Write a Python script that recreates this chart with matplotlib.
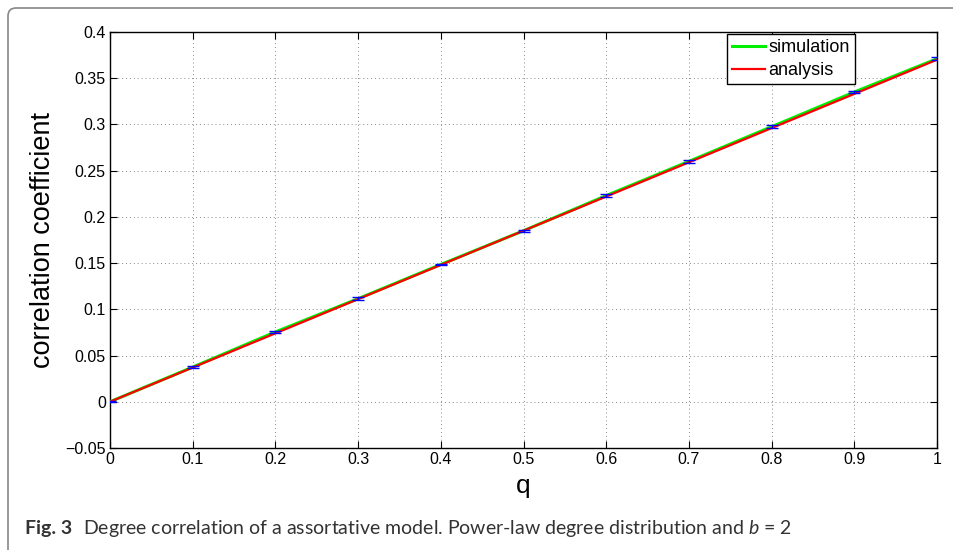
import numpy as np
import matplotlib.pyplot as plt
from matplotlib.patches import FancyBboxPatch

# data
q = [0.0, 0.1, 0.2, 0.3, 0.4, 0.5, 0.6, 0.7, 0.8, 0.9, 1.0]
simulation = [0.0, 0.0375, 0.0755, 0.1115, 0.1485, 0.1850, 0.2230, 0.2600, 0.2975, 0.3350, 0.3710]
sim_err = [0.0005, 0.0008, 0.0012, 0.0015, 0.0008, 0.0010, 0.0012, 0.0015, 0.0015, 0.0012, 0.0015]
analysis = [0.0, 0.0370, 0.0740, 0.1110, 0.1480, 0.1850, 0.2220, 0.2590, 0.2960, 0.3330, 0.3700]

xticks = [0, 0.1, 0.2, 0.3, 0.4, 0.5, 0.6, 0.7, 0.8, 0.9, 1]
xticklabels = ['0', '0.1', '0.2', '0.3', '0.4', '0.5', '0.6', '0.7', '0.8', '0.9', '1']
yticks = [-0.05, 0, 0.05, 0.1, 0.15, 0.2, 0.25, 0.3, 0.35, 0.4]
yticklabels = ['\u22120.05', '0', '0.05', '0.1', '0.15', '0.2', '0.25', '0.3', '0.35', '0.4']

plt.rcParams['font.family'] = ['Liberation Sans', 'DejaVu Sans']
plt.rcParams['mathtext.fontset'] = 'custom'
plt.rcParams['mathtext.it'] = 'Lato:italic'
plt.rcParams['mathtext.rm'] = 'Lato'

fig = plt.figure(figsize=(9.54, 5.5), dpi=100)
ax = fig.add_axes([0.1153, 0.1855, 0.8669, 0.7564])

ax.plot(q, simulation, color='#00ee00', linewidth=2.2, label='simulation', zorder=3)
ax.plot(q, analysis, color='#ff0000', linewidth=1.6, label='analysis', zorder=4)
ax.errorbar(q, simulation, yerr=sim_err, fmt='none', ecolor='#0000ff',
            elinewidth=1.0, capsize=4, capthick=1.0, zorder=5)

ax.set_xlim(0, 1)
ax.set_ylim(-0.05, 0.4)
ax.set_xticks(xticks)
ax.set_xticklabels(xticklabels)
ax.set_yticks(yticks)
ax.set_yticklabels(yticklabels)
ax.tick_params(direction='in', top=True, right=True, length=5, labelsize=11.5, pad=3)
ax.grid(True, linestyle=(0, (1, 3)), color='#888888', linewidth=0.7)
for s in ax.spines.values():
    s.set_linewidth(1.0)

ax.set_xlabel('q', fontsize=19, labelpad=5)
ax.set_ylabel('correlation coefficient', fontsize=19.5, labelpad=7)

leg = ax.legend(loc='upper right', bbox_to_anchor=(0.901, 0.995), fontsize=13,
                fancybox=False, edgecolor='black', framealpha=1,
                handlelength=1.8, handletextpad=0.2, borderpad=0.3,
                labelspacing=0.3, borderaxespad=0)
leg.get_frame().set_linewidth(1.0)

# card border of the figure
frame = FancyBboxPatch((8, -30), 1000, 572, boxstyle='round,pad=0,rounding_size=8',
                       transform=None, facecolor='none', edgecolor='#888888', linewidth=1.2)
fig.patches.append(frame)

fig.text(0.026, 0.029, 'Fig. 3', fontsize=14, fontweight='bold', color='#333333',
         family='Lato', va='baseline')
fig.text(0.087, 0.029, 'Degree correlation of a assortative model. Power-law degree distribution and $b$ = 2',
         fontsize=14, color='#333333', family='Lato', va='baseline')

fig.savefig('out.png', dpi=100)
